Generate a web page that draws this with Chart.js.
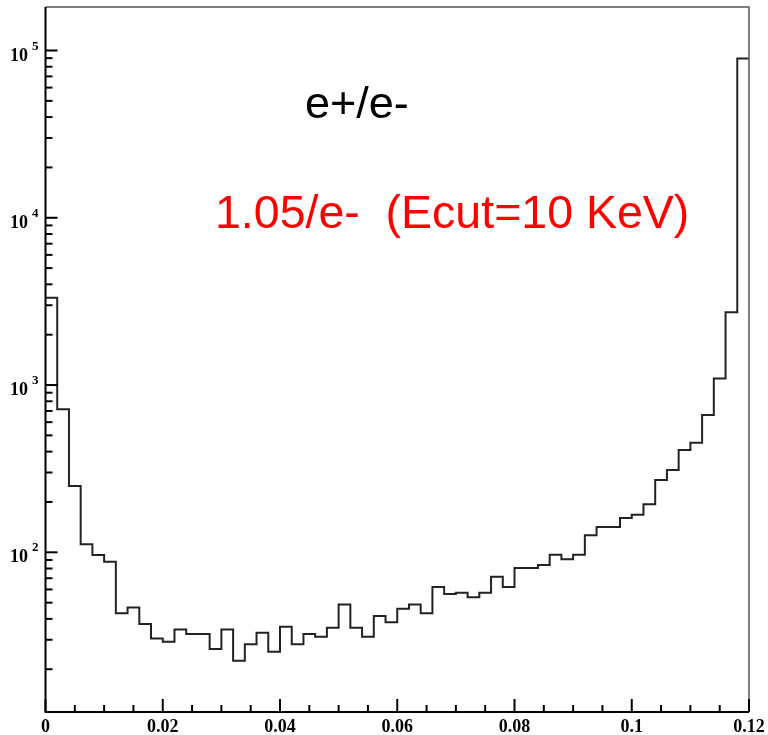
<!DOCTYPE html>
<html>
<head>
<meta charset="utf-8">
<script src="https://cdn.jsdelivr.net/npm/chart.js@4/dist/chart.umd.min.js"></script>
<style>
  html, body { margin: 0; padding: 0; background: #fff; }
  #wrap { width: 768px; height: 735px; }
</style>
</head>
<body>
<div id="wrap"><canvas id="hist"></canvas></div>
<script>
// histogram data: 60 bins of width 0.002 from 0 to 0.12
var binWidth = 0.002;
var counts = [
  3325, 717, 249, 111.6, 96.3, 87.9, 43.2, 46.7, 37.3, 30.5,
  29.2, 34.5, 32.5, 32.5, 26.4, 34.5, 22.5, 28.2, 33.0, 25.4,
  35.9, 28.2, 32.5, 31.3, 35.4, 48.7, 35.4, 31.3, 41.6, 38.2,
  46.0, 48.7, 43.2, 62.1, 56.4, 57.4, 53.8, 57.4, 71.5, 62.1,
  80.6, 80.6, 84.0, 96.8, 90.8, 96.8, 126.4, 141.6, 141.6, 160.3,
  167.9, 193.6, 270.5, 310.5, 408.7, 451.7, 662, 1096, 2725, 89700
];
var xTicks = [0, 0.02, 0.04, 0.06, 0.08, 0.1, 0.12];
var xTickLabels = ['0', '0.02', '0.04', '0.06', '0.08', '0.1', '0.12'];
var yDecades = [2, 3, 4, 5];
var titleText = 'e+/e-';
var noteText = '1.05/e-  (Ecut=10 KeV)';

// step outline points at the bin edges
var points = counts.map(function (c, i) { return { x: i * binWidth, y: c }; });
points.push({ x: counts.length * binWidth, y: counts[counts.length - 1] });

var rootFrame = {
  id: 'rootFrame',
  afterDraw: function (chart) {
    var ctx = chart.ctx;
    var a = chart.chartArea;
    var xs = chart.scales.x, ys = chart.scales.y;
    ctx.save();

    // frame
    ctx.strokeStyle = '#555';
    ctx.lineWidth = 1.5;
    ctx.beginPath();
    ctx.moveTo(a.left, a.top); ctx.lineTo(a.right, a.top); ctx.lineTo(a.right, a.bottom);
    ctx.stroke();
    ctx.strokeStyle = '#000';
    ctx.lineWidth = 2;
    ctx.beginPath();
    ctx.moveTo(a.left, a.top); ctx.lineTo(a.left, a.bottom); ctx.lineTo(a.right, a.bottom);
    ctx.stroke();

    // x ticks, inward
    ctx.lineWidth = 2;
    for (var t = 0; t <= 24; t++) {
      var px = xs.getPixelForValue(t * 0.005);
      var len = (t % 4 === 0) ? 13 : 7;
      ctx.beginPath();
      ctx.moveTo(px, a.bottom); ctx.lineTo(px, a.bottom - len);
      ctx.stroke();
    }
    ctx.fillStyle = '#000';
    ctx.font = 'bold 18px "Liberation Serif", "DejaVu Serif", serif';
    ctx.textAlign = 'center';
    ctx.textBaseline = 'alphabetic';
    xTicks.forEach(function (v, i) {
      ctx.fillText(xTickLabels[i], xs.getPixelForValue(v), 732);
    });

    // y ticks, inward, log
    for (var n = 1; n <= 5; n++) {
      for (var k = 1; k <= 9; k++) {
        var val = k * Math.pow(10, n);
        if (val < ys.min || val > ys.max) continue;
        var py = ys.getPixelForValue(val);
        var l = (k === 1) ? 12 : 7;
        ctx.beginPath();
        ctx.moveTo(a.left, py); ctx.lineTo(a.left + l, py);
        ctx.stroke();
      }
    }
    ctx.textAlign = 'left';
    yDecades.forEach(function (d) {
      var py = ys.getPixelForValue(Math.pow(10, d));
      ctx.font = 'bold 18px "Liberation Serif", "DejaVu Serif", serif';
      ctx.fillText('10', 10, py + 10);
      ctx.font = 'bold 13px "Liberation Serif", "DejaVu Serif", serif';
      ctx.fillText(String(d), 32, py - 1);
    });

    // annotations
    ctx.font = '45px "Liberation Sans", Arial, sans-serif';
    ctx.fillStyle = '#000';
    ctx.fillText(titleText, 305, 118);
    ctx.font = '46.5px "Liberation Sans", Arial, sans-serif';
    ctx.fillStyle = '#ff0000';
    ctx.fillText(noteText, 215, 228);
    ctx.restore();
  }
};

var ctx = document.getElementById('hist').getContext('2d');
var chart = new Chart(ctx, {
  type: 'line',
  data: {
    datasets: [{
      data: points,
      stepped: 'before',
      borderColor: '#222',
      borderWidth: 2,
      pointRadius: 0,
      fill: false
    }]
  },
  options: {
    responsive: true,
    maintainAspectRatio: false,
    animation: false,
    layout: { padding: { top: 7, right: 19, left: 0, bottom: 0 } },
    plugins: { legend: { display: false }, tooltip: { enabled: false } },
    scales: {
      x: {
        type: 'linear', min: 0, max: 0.12,
        grid: { display: false }, border: { display: false },
        ticks: { display: false },
        afterFit: function (s) { s.height = 23; }
      },
      y: {
        type: 'logarithmic', min: 11.1, max: 182000,
        grid: { display: false }, border: { display: false },
        ticks: { display: false },
        afterFit: function (s) { s.width = 45.5; }
      }
    }
  },
  plugins: [rootFrame]
});
</script>
</body>
</html>
